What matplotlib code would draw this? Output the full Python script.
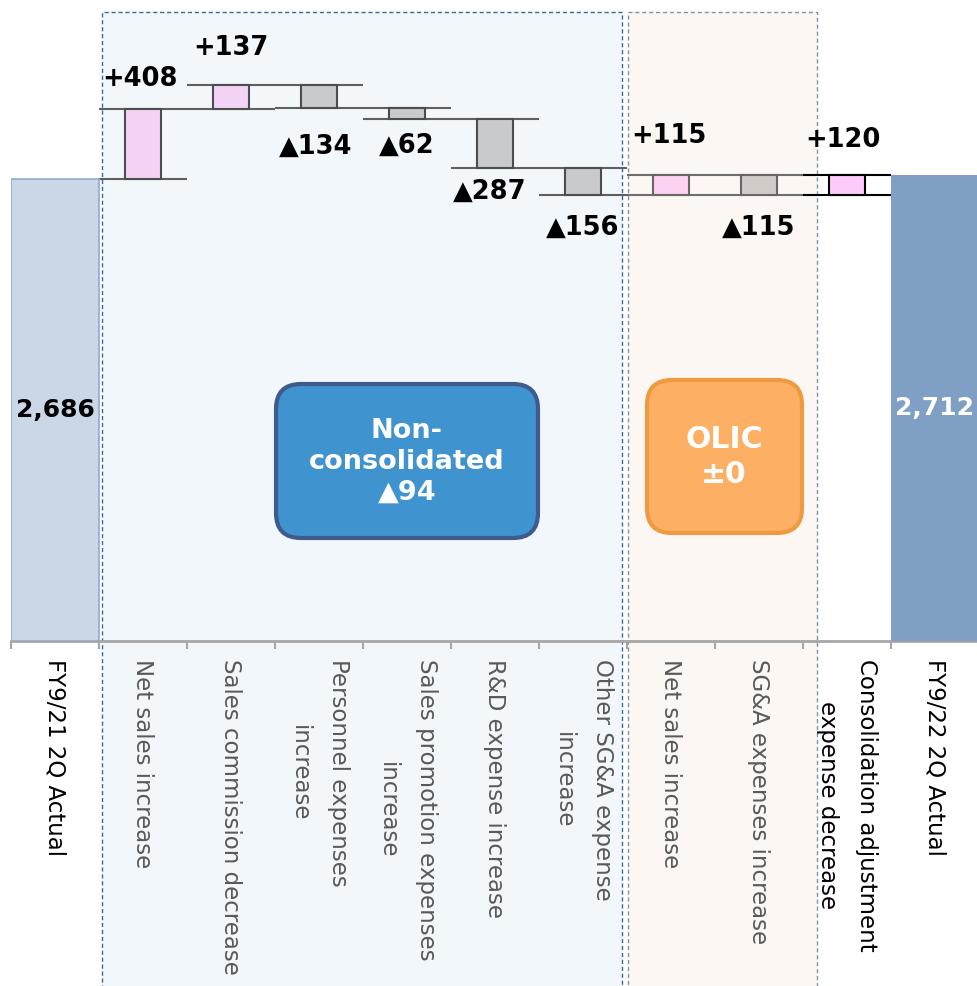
import matplotlib.pyplot as plt
from matplotlib.patches import Rectangle, FancyBboxPatch

plt.rcParams['font.family'] = ['DejaVu Sans']

# operating expense bridge, FY9/21 2Q -> FY9/22 2Q
categories = ["FY9/21 2Q Actual", "Net sales increase", "Sales commission decrease",
              "Personnel expenses\nincrease", "Sales promotion expenses\nincrease",
              "R&D expense increase", "Other SG&A expense\nincrease",
              "Net sales increase", "SG&A expenses increase",
              "Consolidation adjustment\nexpense decrease", "FY9/22 2Q Actual"]
start_value = 2686
end_value = 2712
deltas = [408, 137, -134, -62, -287, -156, 115, -115, 120]
# which group each delta belongs to: 0 = non-consolidated, 1 = OLIC, 2 = consolidation adj.
groups = [0, 0, 0, 0, 0, 0, 1, 1, 2]

bar_fill = ['#f3d4f6', '#f3d4f6', '#c8cacd', '#c8cacd', '#c8cacd', '#c8cacd',
            '#fcd1f1', '#d1ccc8', '#fccbfc']
bar_edge = ['#4d4d4d'] * 6 + ['#6b6565', '#6b6565', '#000000']
line_col = ['#5f5f5f'] * 6 + ['#6e6e6e', '#6e6e6e', '#000000']
# label offsets (pixels) from the bar end
label_dy = [23, 30, 25, 14, 10, 20, 32, 20, 28]
label_dx = [-3, 0, -3, 0, -5, 0, -2, 0, -4]


def fmt(v):
    return f"+{v}" if v > 0 else (f"▲{-v}" if v < 0 else "±0")


PX = 0.172  # pixels per unit on the value axis
fig = plt.figure(figsize=(9.78, 9.86), dpi=100)
ax = fig.add_axes([11 / 978, 345 / 986, 968 / 978, 641 / 986])
ax.set_facecolor('none')
ax.set_xlim(-0.5, 10.5)
ax.set_ylim(0, 641 / PX)

# shaded group backgrounds
bg_blue = Rectangle((1.02, -0.2), 5.20, 9.94, transform=fig.dpi_scale_trans,
                    facecolor='#f2f7fb', edgecolor='#3a66a3', lw=1.0,
                    linestyle=(0, (3, 2)), zorder=-2)
bg_peach = Rectangle((6.28, -0.2), 1.89, 9.94, transform=fig.dpi_scale_trans,
                     facecolor='#fcf7f2', edgecolor='#7f93b3', lw=1.0,
                     linestyle=(0, (3, 2)), zorder=-2)
fig.add_artist(bg_blue)
fig.add_artist(bg_peach)

levels = [start_value]
for d in deltas:
    levels.append(levels[-1] + d)

# totals
ax.bar(0, start_value, width=1.0, color='#cbd7e6', edgecolor='#8eabcd', lw=1.2, zorder=3)
ax.bar(10, end_value, width=1.0, color='#7f9fc4', lw=0, zorder=3)
ax.text(0, start_value / 2, f"{start_value:,}", ha='center', va='center',
        fontsize=18, fontweight='bold', color='black', zorder=4)
ax.text(10, end_value / 2, f"{end_value:,}", ha='center', va='center',
        fontsize=18, fontweight='bold', color='white', zorder=4)

# floating steps
for i, d in enumerate(deltas, start=1):
    k = i - 1
    lo, hi = min(levels[i - 1], levels[i]), max(levels[i - 1], levels[i])
    ax.hlines([lo, hi], i - 0.5, i + 0.5, colors=line_col[k], lw=1.5, zorder=2)
    ax.bar(i, hi - lo, bottom=lo, width=0.41, color=bar_fill[k],
           edgecolor=bar_edge[k], lw=1.5, zorder=3)
    if d > 0:
        ax.annotate(fmt(d), (i, hi), xytext=(label_dx[k] * 0.72, label_dy[k] * 0.72),
                    textcoords='offset points', ha='center', va='baseline',
                    fontsize=18.5, fontweight='bold', color='black')
    else:
        ax.annotate(fmt(d), (i, lo), xytext=(label_dx[k] * 0.72, -label_dy[k] * 0.72),
                    textcoords='offset points', ha='center', va='top',
                    fontsize=18.5, fontweight='bold', color='black')

# group summary boxes
non_cons = sum(d for d, g in zip(deltas, groups) if g == 0)
olic = sum(d for d, g in zip(deltas, groups) if g == 1)

box1 = FancyBboxPatch((2.76, 4.48), 2.62, 1.54, boxstyle="round,pad=0,rounding_size=0.25",
                      transform=fig.dpi_scale_trans, facecolor='#3f93cf',
                      edgecolor='#3f5a8c', lw=3, zorder=5)
box2 = FancyBboxPatch((6.47, 4.53), 1.55, 1.53, boxstyle="round,pad=0,rounding_size=0.25",
                      transform=fig.dpi_scale_trans, facecolor='#fdb064',
                      edgecolor='#ee9a40', lw=3, zorder=5)
fig.add_artist(box1)
fig.add_artist(box2)
fig.text(407 / 978, 1 - 462 / 986, f"Non-\nconsolidated\n{fmt(non_cons)}",
         ha='center', va='center', fontsize=19.5, fontweight='bold', color='white',
         linespacing=1.25, zorder=6)
fig.text(724 / 978, 1 - 457 / 986, f"OLIC\n{fmt(olic)}",
         ha='center', va='center', fontsize=21.5, fontweight='bold', color='white',
         linespacing=1.25, zorder=6)

# axes styling
for s in ['left', 'right', 'top']:
    ax.spines[s].set_visible(False)
ax.spines['bottom'].set_color('#a6a6a6')
ax.spines['bottom'].set_linewidth(2)
ax.set_yticks([])
ax.set_xticks(range(len(categories)))
ax.set_xticklabels(categories, rotation=-90, va='top', ha='center',
                   fontsize=16.5, multialignment='center', linespacing=1.9)
ax.set_xticks([i - 0.5 for i in range(len(categories))], minor=True)
ax.tick_params(axis='x', which='major', length=0, pad=13)
ax.tick_params(axis='x', which='minor', length=6, width=1.5, color='#a6a6a6')
for i, lab in enumerate(ax.get_xticklabels()):
    if i in (0, 9, 10):
        lab.set_color('black')
    else:
        lab.set_color('#595959')

fig.savefig('out.png', dpi=100)
